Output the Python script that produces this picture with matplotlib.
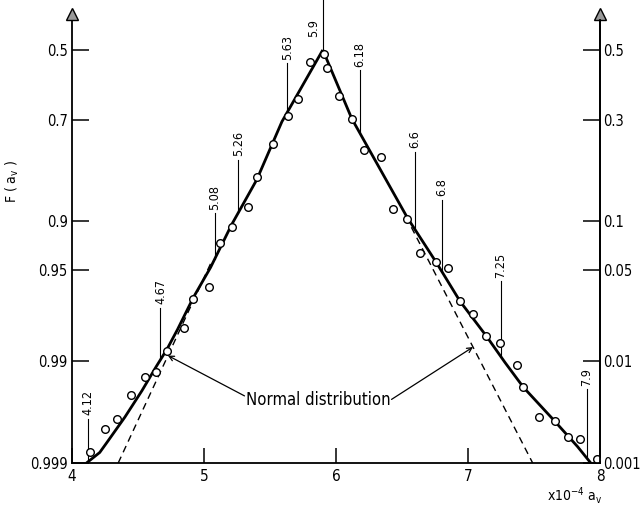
import matplotlib
matplotlib.use("Agg")
import matplotlib.pyplot as plt
import numpy as np
from statistics import NormalDist

plt.rcParams["font.family"] = ["DejaVu Sans"]
plt.rcParams["font.stretch"] = "condensed"

# Observed exceedance probabilities F(a_v) against a_v (x10^-4)
obs_x = [4.14, 4.25, 4.34, 4.45, 4.55, 4.64, 4.72, 4.85, 4.92, 5.04,
         5.12, 5.21, 5.33, 5.40, 5.52, 5.64, 5.71, 5.80, 5.91, 5.93,
         6.02, 6.12, 6.21, 6.34, 6.43, 6.54, 6.64, 6.76, 6.85, 6.94,
         7.04, 7.14, 7.24, 7.37, 7.42, 7.54, 7.66, 7.76, 7.85, 7.98]
obs_F = [0.9987, 0.9977, 0.9971, 0.9951, 0.9928, 0.9920, 0.9879, 0.9813, 0.9690, 0.9621,
         0.9262, 0.9079, 0.8794, 0.8284, 0.7584, 0.6890, 0.6428, 0.5357, 0.488, 0.4467,
         0.3658, 0.3033, 0.2278, 0.2121, 0.1176, 0.1036, 0.0640, 0.0559, 0.0511, 0.0300,
         0.0240, 0.0161, 0.0141, 0.0092, 0.0058, 0.0030, 0.00275, 0.0019, 0.0018, 0.0011]

# Fitted distribution (solid curve), lower and upper branch
fit_x_left = [4.11, 4.21, 4.27, 4.40, 4.53, 4.64, 4.72, 4.80, 4.92, 5.05, 5.21, 5.40, 5.59, 5.90]
fit_F_left = [0.999, 0.9987, 0.9983, 0.9970, 0.9946, 0.9910, 0.9874, 0.9817, 0.9679, 0.9481,
              0.9042, 0.8340, 0.7044, 0.5]
fit_x_right = [5.90, 6.12, 6.54, 6.76, 6.94, 7.14, 7.28, 7.42, 7.64, 7.83, 7.93]
fit_F_right = [0.5, 0.3033, 0.1049, 0.0559, 0.0300, 0.0161, 0.0097, 0.0058, 0.0029, 0.0015, 0.001]

# Normal distribution (dashed), shown where it departs from the fit
norm_x_left = [4.35, 5.05]
norm_F_left = [0.999, 0.945]
norm_x_right = [6.53, 7.49]
norm_F_right = [0.106, 0.001]

# Marked values along the curve
mark_values = [4.12, 4.67, 5.08, 5.26, 5.63, 5.9, 6.18, 6.6, 6.8, 7.25, 7.9]
leader_tops = [2.76, 1.93, 1.22, 0.82, 0.10, -0.37, 0.15, 0.76, 1.12, 1.73, 2.54]

# Probability scale ticks
left_ticks = [0.5, 0.7, 0.9, 0.95, 0.99, 0.999]
left_labels = ["0.5", "0.7", "0.9", "0.95", "0.99", "0.999"]
right_labels = ["0.5", "0.3", "0.1", "0.05", "0.01", "0.001"]
x_ticks = [4, 5, 6, 7, 8]

nd = NormalDist()


def depth(F):
    """Folded normal-probability coordinate: distance from the median in sigma units."""
    return np.array([abs(nd.inv_cdf(f)) for f in np.atleast_1d(F)])


fig = plt.figure(figsize=(6.42, 5.07), dpi=100)
ax = fig.add_axes([72 / 642, 44 / 507, 528 / 642, 443 / 507])
zbot = depth(0.999)[0]
ax.set_xlim(4, 8)
ax.set_ylim(zbot, -0.224)

for s in ("left", "right", "bottom"):
    ax.spines[s].set_linewidth(1.3)
ax.spines["top"].set_visible(False)

ax.set_xticks(x_ticks)
ax.set_xticklabels([str(v) for v in x_ticks], fontsize=11)
ax.set_yticks(depth(left_ticks))
ax.set_yticklabels(left_labels, fontsize=10.5)
ax.tick_params(axis="both", direction="in", width=1.1)
ax.tick_params(axis="y", length=12, pad=3)
ax.tick_params(axis="x", length=11, pad=4)

ax2 = ax.twinx()
ax2.set_ylim(ax.get_ylim())
ax2.set_yticks(depth(left_ticks))
ax2.set_yticklabels(right_labels, fontsize=10.5)
ax2.tick_params(axis="y", direction="in", length=12, width=1.1, pad=2)
for s in ("left", "top", "bottom"):
    ax2.spines[s].set_visible(False)
ax2.spines["right"].set_linewidth(1.3)

# Arrowheads at the top of both probability axes
ax.plot([0, 1], [1.014, 1.014], transform=ax.transAxes, ls="none", marker="^",
        ms=8, mfc="0.6", mec="black", mew=1.0, clip_on=False, zorder=5)

# Curves and observations
zl = depth(fit_F_left)
zr = depth(fit_F_right)
ax.plot(fit_x_left, zl, color="black", lw=2.0, solid_capstyle="butt")
ax.plot(fit_x_right, zr, color="black", lw=2.0, solid_capstyle="butt")
nzl = depth(norm_F_left)
nzr = depth(norm_F_right)
ax.plot(norm_x_left, nzl, color="black", lw=1.0, ls=(0, (5, 3.5)))
ax.plot(norm_x_right, nzr, color="black", lw=1.0, ls=(0, (5, 3.5)))
ax.plot(obs_x, depth(obs_F), ls="none", marker="o", ms=5.5, mfc="white",
        mec="black", mew=1.0, zorder=4)

# Leader lines with rotated value labels
peak = fit_x_left[-1]
for v, top in zip(mark_values, leader_tops):
    if v < peak:
        zb = np.interp(v, fit_x_left, zl)
    else:
        zb = np.interp(v, fit_x_right, zr)
    ax.plot([v, v], [zb, top], color="black", lw=0.8, clip_on=False)
    if v == peak:
        ax.annotate(f"{v:g}", xy=(v, -0.16), xytext=(-2, 0), textcoords="offset points",
                    rotation=90, ha="right", va="center", fontsize=9,
                    annotation_clip=False)
    else:
        ax.annotate(f"{v:g}", xy=(v, top), xytext=(0, 2.5), textcoords="offset points",
                    rotation=90, ha="center", va="bottom", fontsize=9,
                    annotation_clip=False)

# "Normal distribution" callout pointing at both dashed branches
x_lp, x_rp = 4.727, 7.038
left_tip = (x_lp, np.interp(x_lp, norm_x_left, nzl))
right_tip = (x_rp, np.interp(x_rp, norm_x_right, nzr))
arrow = dict(arrowstyle="->,head_length=0.35,head_width=0.18", lw=0.9,
             shrinkA=1, shrinkB=0, color="black")
label = ax.text(5.864, 2.62, "Normal distribution", ha="center", va="center",
                fontsize=12)
ax.annotate("", xy=left_tip, xytext=(0.0, 0.7), textcoords=label,
            arrowprops=dict(arrow))
ax.annotate("", xy=right_tip, xytext=(1.0, 0.5), textcoords=label,
            arrowprops=dict(arrow))

fig.text(12 / 642, 1 - 181 / 507, r"F ( a$_{\mathrm{v}}$ )", rotation=90,
         ha="center", va="center", fontsize=10)
fig.text(575 / 642, 1 - 495 / 507, r"x10$^{-4}$ a$_{\mathrm{v}}$",
         ha="center", va="center", fontsize=10)

fig.savefig("out.png", dpi=100)
